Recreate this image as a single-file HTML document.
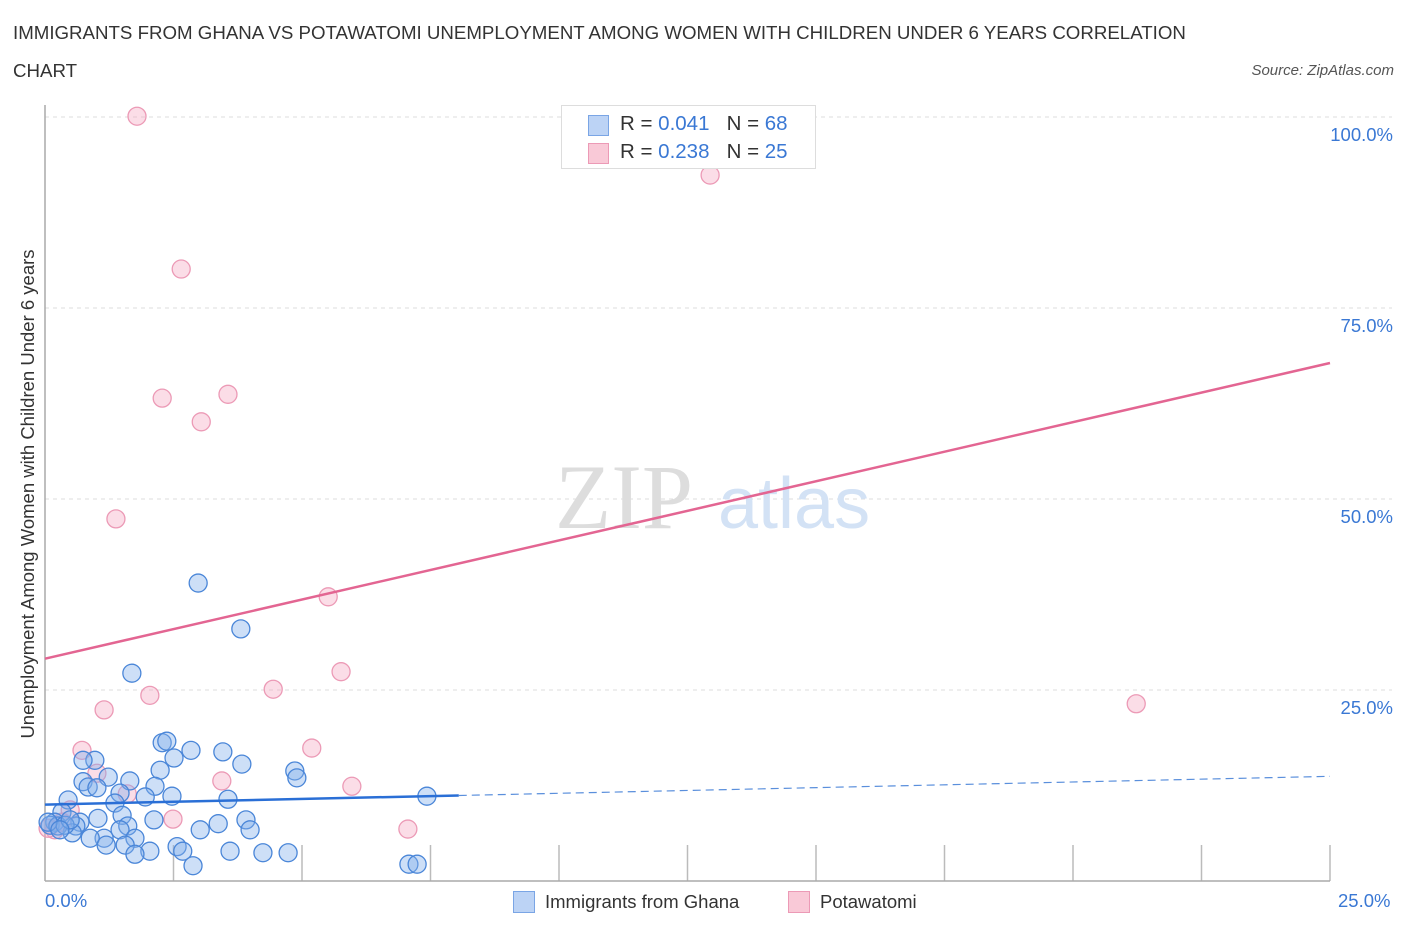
<!DOCTYPE html>
<html><head><meta charset="utf-8"><style>
body{margin:0;background:#fff;font-family:"Liberation Sans",sans-serif;}
#wrap{position:relative;width:1406px;height:930px;overflow:hidden}
.t{position:absolute;white-space:nowrap}
</style></head><body>
<div id="wrap">
<div class="t" style="left:13px;top:14px;font-size:18.7px;color:#333;line-height:38px;width:1200px;white-space:normal">IMMIGRANTS FROM GHANA VS POTAWATOMI UNEMPLOYMENT AMONG WOMEN WITH CHILDREN UNDER 6 YEARS CORRELATION CHART</div>
<div class="t" style="right:12px;top:62px;font-size:15px;color:#555;font-style:italic">Source: ZipAtlas.com</div>
<svg id="svg" width="1406" height="930" style="position:absolute;left:0;top:0"></svg>
</div>
<script>
const ticksY=[25,50,75,100];
const ticksYLabels=["25.0%","50.0%","75.0%","100.0%"];
const blueX=[2.98,3.81,1.69,2.28,2.37,2.84,3.46,2.51,3.83,0.97,0.74,4.86,4.90,2.24,1.23,1.65,0.74,0.84,1.01,1.46,2.14,1.95,2.47,3.56,7.43,0.45,1.36,1.50,0.33,1.03,2.12,3.91,0.68,1.61,3.37,3.02,3.99,0.60,1.46,1.15,0.88,0.53,1.75,1.56,1.19,2.57,2.68,2.04,3.60,4.24,4.73,1.75,2.88,7.08,7.24,0.19,0.10,0.25,0.39,0.06,0.49,0.29];
const blueY=[39.0,33.0,27.2,18.1,18.3,17.1,16.9,16.1,15.3,15.8,15.8,14.4,13.5,14.5,13.6,13.1,13.0,12.3,12.2,11.5,12.4,11.0,11.1,10.7,11.1,10.6,10.2,8.6,9.0,8.2,8.0,8.0,7.7,7.2,7.5,6.7,6.7,7.2,6.7,5.6,5.6,6.3,5.6,4.7,4.7,4.5,3.9,3.9,3.9,3.7,3.7,3.5,2.0,2.2,2.2,7.7,7.3,7.2,7.3,7.7,8.0,6.7];
const pinkX=[1.79,12.94,2.65,2.28,3.56,3.04,1.38,5.51,2.04,1.15,4.44,5.76,21.23,0.72,5.19,1.01,3.44,5.97,1.60,2.49,7.06,0.49,0.19,0.06,0.33];
const pinkY=[100.1,92.4,80.1,63.2,63.7,60.1,47.4,37.2,24.3,22.4,25.1,27.4,23.2,17.1,17.4,14.1,13.1,12.4,11.4,8.1,6.8,9.3,6.7,6.9,7.7];
const pinkTrend=[29.1,67.8];
const blueTrend=[10.0,13.7];
const blueSolidEnd=8.05;
const X=v=>45+v*51.4, Y=v=>881-v*7.64;
const NS="http://www.w3.org/2000/svg",svg=document.getElementById('svg');
function mk(tag,a){const e=document.createElementNS(NS,tag);for(const k in a)e.setAttribute(k,a[k]);svg.appendChild(e);return e;}
ticksY.forEach((v,i)=>{
 const g=mk('line',{x1:45,x2:1392,y1:Y(v),y2:Y(v),stroke:'#ddd','stroke-dasharray':'4,4'});
 
 
 const t=mk('text',{x:1393,y:Y(v)+24,'text-anchor':'end','font-size':18.5,fill:'#3a78d4'});
 t.textContent=ticksYLabels[i];
 
 
});
for(let i=1;i<=10;i++){const l=mk('line',{x1:X(i*2.5),x2:X(i*2.5),y1:845,y2:881,stroke:'#bbb','stroke-width':1.5});
 
 }
let a=mk('line',{x1:45,x2:45,y1:105,y2:881,stroke:'#aaa','stroke-width':1.5});


a=mk('line',{x1:45,x2:1330,y1:881,y2:881,stroke:'#aaa','stroke-width':1.5});


let w=mk('text',{x:555,y:528,'font-size':92,'font-family':'Liberation Serif',fill:'#ddd'});w.textContent='ZIP';


w=mk('text',{x:718,y:528,'font-size':72,fill:'#d3e2f5'});w.textContent='atlas';


pinkX.forEach((x,i)=>{const c=mk('circle',{cx:X(x),cy:Y(pinkY[i]),r:9,fill:'rgba(244,170,195,0.4)',stroke:'#ec9ab6','stroke-width':1.3});
 
 });
blueX.forEach((x,i)=>{const c=mk('circle',{cx:X(x),cy:Y(blueY[i]),r:9,fill:'rgba(130,175,235,0.4)',stroke:'#4a86d8','stroke-width':1.3});
 
 });
let l=mk('line',{x1:X(0),y1:Y(pinkTrend[0]),x2:X(25),y2:Y(pinkTrend[1]),stroke:'#e36592','stroke-width':2.5});


const by=v=>blueTrend[0]+(blueTrend[1]-blueTrend[0])*v/25;
l=mk('line',{x1:X(0),y1:Y(by(0)),x2:X(blueSolidEnd),y2:Y(by(blueSolidEnd)),stroke:'#2a6fd6','stroke-width':2.5});


l=mk('line',{x1:X(blueSolidEnd),y1:Y(by(blueSolidEnd)),x2:X(25),y2:Y(by(25)),stroke:'#5a8fdc','stroke-width':1.2,'stroke-dasharray':'8,5'});


</script>
<div class="t" style="left:28px;top:494px;font-size:18.5px;color:#333;transform:translate(-50%,-50%) rotate(-90deg)">Unemployment Among Women with Children Under 6 years</div>
<div class="t" style="left:45px;top:890px;font-size:18.5px;color:#3a78d4">0.0%</div>
<div class="t" style="left:1338px;top:890px;font-size:18.5px;color:#3a78d4">25.0%</div>
<div style="position:absolute;left:561px;top:105px;width:253px;height:62px;border:1px solid #ddd;background:#fff;font-size:20.5px;color:#333">
 <div style="position:absolute;left:26px;top:9px;width:19px;height:19px;background:#bcd3f5;border:1px solid #7aa5e5"></div>
 <div class="t" style="left:58px;top:6px">R = <span style="color:#3a78d4">0.041</span>&nbsp;&nbsp;&nbsp;N = <span style="color:#3a78d4">68</span></div>
 <div style="position:absolute;left:26px;top:37px;width:19px;height:19px;background:#f9c9d7;border:1px solid #ec9ab6"></div>
 <div class="t" style="left:58px;top:34px">R = <span style="color:#3a78d4">0.238</span>&nbsp;&nbsp;&nbsp;N = <span style="color:#3a78d4">25</span></div>
</div>
<div style="position:absolute;left:513px;top:891px;font-size:18.5px;color:#333">
 <div style="position:absolute;left:0;top:0;width:20px;height:20px;background:#bcd3f5;border:1px solid #7aa5e5"></div>
 <div class="t" style="left:32px;top:0">Immigrants from Ghana</div></div>
<div style="position:absolute;left:788px;top:891px;font-size:18.5px;color:#333">
 <div style="position:absolute;left:0;top:0;width:20px;height:20px;background:#f9c9d7;border:1px solid #ec9ab6"></div>
 <div class="t" style="left:32px;top:0">Potawatomi</div></div>
</body></html>
